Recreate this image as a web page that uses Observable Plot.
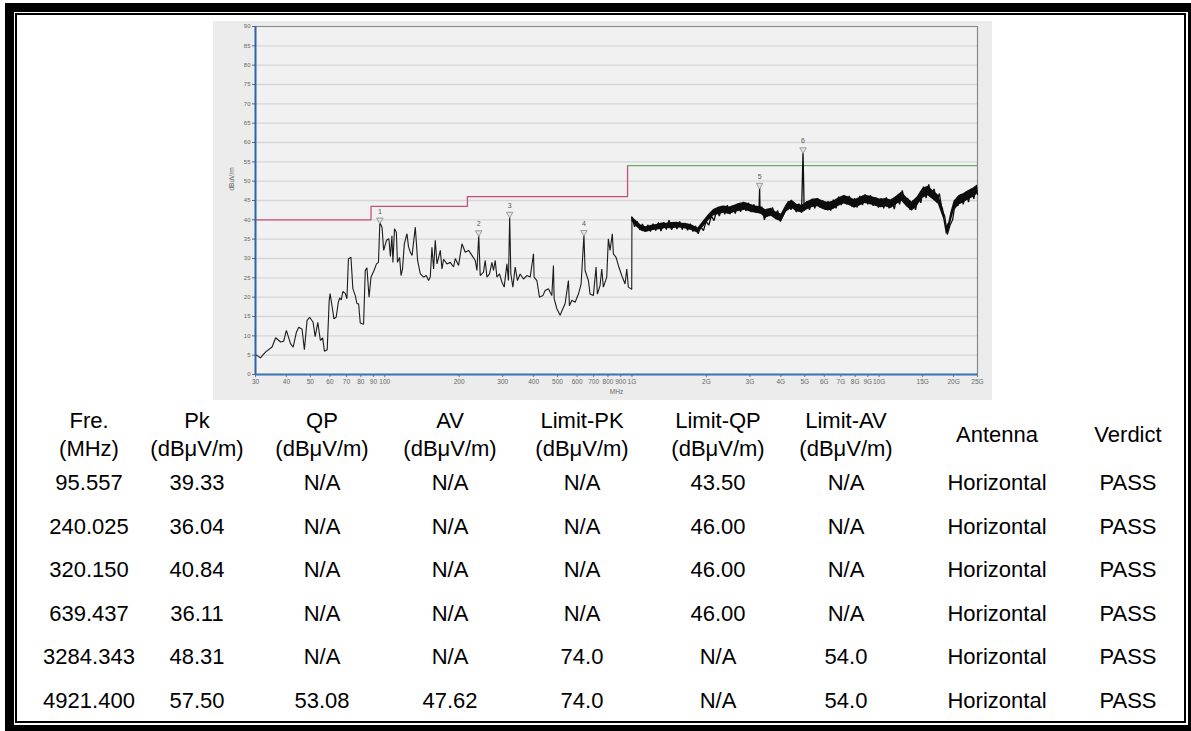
<!DOCTYPE html>
<html><head><meta charset="utf-8">
<script src="https://cdn.jsdelivr.net/npm/d3@7"></script>
<script src="https://cdn.jsdelivr.net/npm/@observablehq/plot@0.6"></script>
<style>
html,body{margin:0;padding:0;background:#fff;}
#page{position:relative;width:1191px;height:731px;overflow:hidden;background:#fff;font-family:Arial,"Liberation Sans",sans-serif;}
#outer{position:absolute;left:5px;top:3px;width:1174px;height:713px;border:9px solid #000;}
#inner{position:absolute;left:15px;top:13px;width:1167px;height:706px;border:2px solid #000;}
#panel{position:absolute;left:213px;top:21px;width:779px;height:379px;background:#ececec;}
#chart{position:absolute;left:213px;top:21px;}
#chart text{-webkit-font-smoothing:grayscale;}
.cell{position:absolute;transform:translate(-50%,-50%);font-size:22px;color:#000;white-space:nowrap;text-align:center;line-height:28px;}
</style></head>
<body><div id="page"><div id="outer"></div><div id="inner"></div><div id="panel"></div><div id="chart"></div><div id="table"></div></div>
<script>
// ---- table (measured peaks) ----
const headLine1 = ["Fre.", "Pk", "QP", "AV", "Limit-PK", "Limit-QP", "Limit-AV", "Antenna", "Verdict"];
const headLine2 = ["(MHz)", "(dBμV/m)", "(dBμV/m)", "(dBμV/m)", "(dBμV/m)", "(dBμV/m)", "(dBμV/m)", "", ""];
const freqCol   = ["95.557", "240.025", "320.150", "639.437", "3284.343", "4921.400"];
const pkCol     = ["39.33", "36.04", "40.84", "36.11", "48.31", "57.50"];
const qpCol     = ["N/A", "N/A", "N/A", "N/A", "N/A", "53.08"];
const avCol     = ["N/A", "N/A", "N/A", "N/A", "N/A", "47.62"];
const limPkCol  = ["N/A", "N/A", "N/A", "N/A", "74.0", "74.0"];
const limQpCol  = ["43.50", "46.00", "46.00", "46.00", "N/A", "N/A"];
const limAvCol  = ["N/A", "N/A", "N/A", "N/A", "54.0", "54.0"];
const antCol    = ["Horizontal", "Horizontal", "Horizontal", "Horizontal", "Horizontal", "Horizontal"];
const verdictCol= ["PASS", "PASS", "PASS", "PASS", "PASS", "PASS"];
const peakIds   = ["1", "2", "3", "4", "5", "6"];

// ---- axis ticks ----
const yTickValues = [0,5,10,15,20,25,30,35,40,45,50,55,60,65,70,75,80,85,90];
const xTickValues = [30,40,50,60,70,80,90,100,200,300,400,500,600,700,800,900,1000,2000,3000,4000,5000,6000,7000,8000,9000,10000,15000,20000,25000];
const xTickLabels = ["30","40","50","60","70","80","90","100","200","300","400","500","600","700","800","900","1G","2G","3G","4G","5G","6G","7G","8G","9G","10G","15G","20G","25G"];

// ---- limit lines ----
const limitQpFreq  = [30, 88, 88, 216, 216, 960, 960];
const limitQpLevel = [40, 40, 43.5, 43.5, 46, 46, 54];
const limitAvFreq  = [960, 25000];
const limitAvLevel = [54, 54];

// ---- trace below 1 GHz (MHz, dBuV/m) ----
const lfFreq = [30,31.4,32.9,35.0,36.2,37.9,39.0,40.0,41.6,42.6,43.9,44.9,46.3,47.3,48.5,49.7,51.3,52.3,53.6,54.9,56.1,57.0,58.5,59.6,60.1,61.0,62.3,63.6,64.9,65.7,66.7,67.7,69.2,70.3,71.3,73.0,74.3,76.0,77.2,78.4,79.6,82.1,83.4,84.7,86.4,88.0,90.5,92.6,94.3,95.557,97.5,99.0,101.6,103.9,105.4,106.9,107.9,109.5,111.4,112.6,114.8,116.4,118.0,120.0,123.0,124.8,126.9,129.0,132.9,135.8,139.3,143.6,147.2,150.4,152.8,155.2,157.6,160.1,162.7,167.8,170.4,173.0,178.5,184.1,189.8,192.9,198.9,205.3,211.7,218.3,225.3,232.3,236.0,240.025,243.3,250.9,254.9,259.0,265.3,271.3,275.4,279.8,284.2,291.2,297.8,304.2,312.0,316.6,320.15,323.7,329.9,337.0,344.2,353.0,364.0,375.8,387.6,399.7,402,412.5,422.6,436.2,445.5,459.3,474.1,481.3,484.5,496.8,512.2,525.2,536.5,553.4,558.6,571.2,589.0,607.4,622.8,639.437,646.3,666.5,677.1,698.1,715.9,724.6,743.0,754.9,766.3,790.8,802.7,815.5,833.1,841.1,862.5,881.2,909.4,937.9,952.8,967.1,988.9,998,1000];
const lfLevel = [5.2,4.3,5.8,7.1,9.5,8.4,8.6,11.4,7.9,7.1,10.9,12.2,11.7,6.4,14.0,14.8,13.5,9.8,13.5,8.8,9.5,6.0,6.4,19.1,20.9,18.3,14.4,14.8,18.7,19.8,19.3,21.5,21.0,19.6,29.9,30.3,22.2,20.4,18.3,18.3,13.3,13.0,26.9,27.6,20.0,25.2,26.9,28.6,29.0,39.33,38.0,32.1,34.7,35.1,30.5,35.9,29.0,37.7,36.8,29.0,30.3,25.6,27.3,33.8,36.4,33.0,31.6,30.8,38.1,29.5,26.0,25.2,25.6,24.3,25.2,32.9,27.3,34.7,28.6,32.1,27.3,29.8,28.6,29.0,27.8,30.0,28.2,33.8,31.6,32.1,30.8,29.5,26.9,36.04,25.6,26.5,29.5,25.2,26.0,29.0,26.9,29.5,25.2,26.0,23.9,22.6,28.6,24.3,40.84,26.0,22.6,27.8,24.3,26.0,24.7,25.6,25.2,31.2,25.2,24.3,20.0,20.4,21.7,22.2,20.4,28.2,19.6,17.0,15.3,17.0,18.3,24.3,17.8,19.2,18.7,20.8,23.4,36.11,26.9,24.3,20.8,20.4,27.8,20.8,23.0,27.3,22.6,25.2,35.1,32.1,36.4,31.2,30.3,28.2,25.6,23.4,27.3,22.6,22.2,22.0,40.7];

// ---- above 1 GHz: body of the dense sweep (lower / upper edge) ----
const bandFreq = [1000,1050,1100,1150,1200,1260,1320,1380,1450,1520,1600,1680,1760,1850,1940,2040,2140,2250,2360,2480,2600,2730,2870,3010,3160,3320,3480,3650,3830,4020,4220,4430,4650,4880,4960,5120,5380,5650,5930,6230,6540,6870,7210,7570,7950,8350,8770,9210,9670,10150,10660,11190,11750,12340,12960,13600,14280,15000,15750,16540,17360,18230,18700,19140,19500,20100,21000,22000,23000,24000,25000];
const bandLow  = [39.6,38.0,37.0,36.8,37.2,37.4,37.5,37.8,37.6,37.9,37.8,37.5,37.2,36.5,38.0,39.7,41.0,41.4,41.7,41.4,41.9,42.2,42.5,42.0,41.7,41.5,40.4,41.0,40.0,39.5,42.0,43.0,42.0,41.8,42.0,42.6,43.2,43.4,42.7,42.3,42.7,43.5,44.1,43.7,43.0,43.6,44.2,43.9,43.5,43.1,43.3,42.9,43.9,44.8,43.3,42.2,43.6,45.5,46.2,45.2,44.0,40.2,36.2,37.0,39.2,42.2,43.8,44.4,45.2,45.8,46.7];
const bandHigh = [40.8,39.6,38.4,38.2,38.6,38.8,39.2,39.1,39.3,39.4,39.1,39.0,38.6,37.9,39.6,41.3,42.7,43.3,43.6,43.3,43.8,44.3,44.5,44.0,43.6,43.4,42.6,43.0,42.0,41.5,44.0,45.1,44.0,43.8,44.1,44.7,45.3,45.5,44.9,44.5,44.9,45.7,46.3,45.9,45.2,45.8,46.4,46.1,45.7,45.3,45.5,45.1,46.1,47.2,45.7,44.6,46.0,48.1,48.7,47.6,46.4,42.8,38.3,39.3,41.8,44.8,46.2,46.8,47.6,48.2,49.0];

// ---- above 1 GHz: sweep excursions (MHz, dBuV/m), includes peaks 5 and 6 ----
const hfFreq = [1000,1025,1050,1076,1103,1131,1159,1188,1218,1248,1279,1311,1344,1378,1412,1447,1484,1521,1559,1598,1638,1679,1721,1764,1808,1853,1899,1947,1995,2045,2096,2149,2203,2258,2314,2372,2431,2492,2554,2618,2684,2751,2820,2890,2962,3036,3112,3190,3270,3284.343,3300,3352,3436,3521,3609,3700,3792,3887,3984,4084,4186,4290,4398,4508,4620,4736,4854,4921.4,4975,5100,5227,5358,5492,5629,5770,5914,6062,6213,6369,6528,6691,6858,7030,7205,7386,7570,7759,7953,8152,8356,8565,8779,8998,9223,9454,9690,9933,10181,10436,10696,10964,11238,11519,11807,12102,12405,12715,13033,13358,13692,14035,14386,14745,15114,15492,15879,16276,16683,17100,17527,17965,18415,18875,19347,19831,20326,20835,21355,21889,22437,22998,23573,24162,24766,25000];
const hfLevel = [40.7,38.2,39.6,37.4,38.9,36.9,38.7,37.0,39.0,37.2,39.3,37.1,39.4,37.5,39.9,37.4,39.2,37.6,39.6,37.5,39.2,37.3,39.0,37.0,38.4,36.4,38.2,37.2,39.6,38.6,41.0,39.8,42.8,41.0,43.6,41.4,43.8,41.5,43.6,41.6,44.2,42.1,44.6,42.3,44.4,42.0,44.0,41.8,43.6,48.31,41.6,43.4,40.0,42.8,41.0,43.2,41.2,42.4,39.6,41.0,42.6,44.8,42.6,44.6,42.0,44.2,41.8,57.5,42.4,44.8,42.6,45.4,43.0,45.6,43.2,45.0,42.6,44.8,42.4,45.2,43.0,46.0,43.8,46.4,44.0,46.2,43.4,45.6,43.2,46.2,43.8,46.6,44.0,46.4,43.6,45.8,43.2,45.6,43.0,45.8,43.0,45.4,42.8,46.2,44.0,47.6,44.6,45.6,42.6,45.0,42.6,46.0,44.4,48.6,45.6,49.2,45.8,48.0,44.6,46.8,42.6,41.0,36.2,38.6,40.0,44.6,43.6,46.6,44.0,47.2,44.6,48.0,45.4,48.8,46.6];

// ---------- build ----------
const markers = peakIds.map((id, i) => ({id, f: +freqCol[i], v: +pkCol[i]}));
const lf = lfFreq.map((f, i) => ({f, v: lfLevel[i]}));
const band = bandFreq.map((f, i) => ({f, lo: bandLow[i], hi: bandHigh[i]}));
const hf = hfFreq.map((f, i) => ({f, v: hfLevel[i]}));
const limQp = limitQpFreq.map((f, i) => ({f, v: limitQpLevel[i]}));
const limAv = limitAvFreq.map((f, i) => ({f, v: limitAvLevel[i]}));

const chart = Plot.plot({
  width: 779, height: 379,
  marginLeft: 42, marginRight: 15, marginTop: 5, marginBottom: 26,
  style: {fontFamily: "Arial, 'Liberation Sans', sans-serif", background: "transparent", overflow: "visible"},
  x: {type: "log", domain: [30, 25000], axis: null},
  y: {domain: [0, 90], axis: null},
  marks: [
    Plot.frame({fill: "#f1f1f1", stroke: "none"}),
    Plot.ruleY(yTickValues, {stroke: "#d6d6d6", strokeWidth: 1.4}),
    Plot.ruleY([90], {stroke: "#8a8a8a", strokeWidth: 1.2}),
    Plot.ruleX([25000], {stroke: "#8a8a8a", strokeWidth: 1.2}),
    Plot.axisY(yTickValues, {anchor: "left", tickSize: 3, tickPadding: 2, fontSize: 6, color: "#666", label: null}),
    Plot.ruleX(xTickValues, {x: d => d, y1: 0, y2: -0.8, stroke: "#777", strokeWidth: 1}),
    Plot.text(xTickValues, {x: d => d, text: (d, i) => xTickLabels[i], frameAnchor: "bottom", dy: 9, fontSize: 6.5, fill: "#666"}),
    Plot.text(["dBuV/m"], {frameAnchor: "left", rotate: -90, dx: -24, dy: -10, fontSize: 6.5, fill: "#666"}),
    Plot.text(["MHz"], {frameAnchor: "bottom", dy: 19, fontSize: 6.5, fill: "#666"}),
    Plot.line(limQp, {x: "f", y: "v", stroke: "#c5507f", strokeWidth: 1.3}),
    Plot.line(limAv, {x: "f", y: "v", stroke: "#68ab68", strokeWidth: 1.2}),
    Plot.line(lf, {x: "f", y: "v", stroke: "#1c1c1c", strokeWidth: 1.1, strokeLinejoin: "miter"}),
    Plot.areaY(band, {x: "f", y1: "lo", y2: "hi", fill: "#0d0d0d"}),
    Plot.line(hf, {x: "f", y: "v", stroke: "#0d0d0d", strokeWidth: 1.3, strokeLinejoin: "miter"}),
    Plot.ruleX([30], {stroke: "#2f63a6", strokeWidth: 2}),
    Plot.ruleY([0], {stroke: "#3f72b0", strokeWidth: 2}),
    Plot.dot(markers, {x: "f", y: "v", symbol: "triangle", rotate: 180, r: 2.4, dy: -2.5, stroke: "#9a9a9a", fill: "#e4e4e4", strokeWidth: 1}),
    Plot.text(markers, {x: "f", y: "v", text: "id", dy: -11, fontSize: 7, fill: "#555"})
  ]
});
document.getElementById("chart").appendChild(chart);

// ---------- table ----------
const colX = [89, 197, 322, 450, 582, 718, 846, 997, 1128];
const rowY = [483, 527, 570, 614, 657, 701];
const cols = [freqCol, pkCol, qpCol, avCol, limPkCol, limQpCol, limAvCol, antCol, verdictCol];
const tbl = document.getElementById("table");
function cell(txt, x, y) {
  const d = document.createElement("div");
  d.className = "cell"; d.textContent = txt;
  d.style.left = x + "px"; d.style.top = y + "px";
  tbl.appendChild(d);
}
headLine1.forEach((h, i) => {
  if (headLine2[i]) { cell(h, colX[i], 421); cell(headLine2[i], colX[i], 449); }
  else cell(h, colX[i], 435);
});
cols.forEach((col, c) => col.forEach((v, r) => cell(v, colX[c], rowY[r])));
</script></body></html>
